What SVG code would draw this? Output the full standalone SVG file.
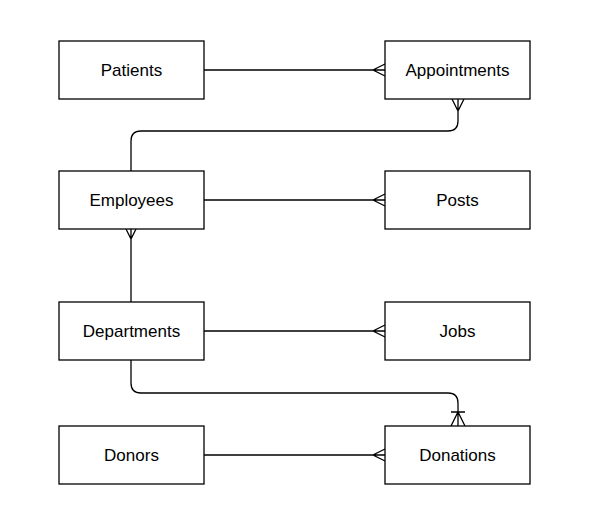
<svg xmlns="http://www.w3.org/2000/svg" width="590" height="531" viewBox="0 0 590 531">
<style>
.box{fill:#fff;stroke:#000;stroke-width:1.3}
.lbl{font-family:"Liberation Sans",Arial,sans-serif;font-size:17px;fill:#000;text-anchor:middle}
.ln{fill:none;stroke:#000;stroke-width:1.3}
</style>
<rect width="590" height="531" fill="#fff"/>
<g id="connectors">
<path class="ln" d="M204,70 H385 M385,64 L373,70 L385,76"/>
<path class="ln" d="M131,171 V141 Q131,131 141,131 H448 Q458,131 458,121 V99 M452,99 L458,111 L464,99"/>
<path class="ln" d="M204,200 H385 M385,194 L373,200 L385,206"/>
<path class="ln" d="M131,229 V302 M126,229 L131,239 L136,229"/>
<path class="ln" d="M204,331 H385 M385,325 L373,331 L385,337"/>
<path class="ln" d="M131,360 V383 Q131,393 141,393 H448 Q458,393 458,403 V426 M451,412 H465 M451,426 L458,412 L465,426"/>
<path class="ln" d="M204,455 H385 M385,449 L373,455 L385,461"/>
</g>
<g id="patients"><rect class="box" x="59" y="41" width="145" height="58"/><text class="lbl" x="131.5" y="76">Patients</text></g>
<g id="appointments"><rect class="box" x="385" y="41" width="145" height="58"/><text class="lbl" x="457.5" y="76">Appointments</text></g>
<g id="employees"><rect class="box" x="59" y="171" width="145" height="58"/><text class="lbl" x="131.5" y="206">Employees</text></g>
<g id="posts"><rect class="box" x="385" y="171" width="145" height="58"/><text class="lbl" x="457.5" y="206">Posts</text></g>
<g id="departments"><rect class="box" x="59" y="302" width="145" height="58"/><text class="lbl" x="131.5" y="337">Departments</text></g>
<g id="jobs"><rect class="box" x="385" y="302" width="145" height="58"/><text class="lbl" x="457.5" y="337">Jobs</text></g>
<g id="donors"><rect class="box" x="59" y="426" width="145" height="58"/><text class="lbl" x="131.5" y="461">Donors</text></g>
<g id="donations"><rect class="box" x="385" y="426" width="145" height="58"/><text class="lbl" x="457.5" y="461">Donations</text></g>
</svg>
